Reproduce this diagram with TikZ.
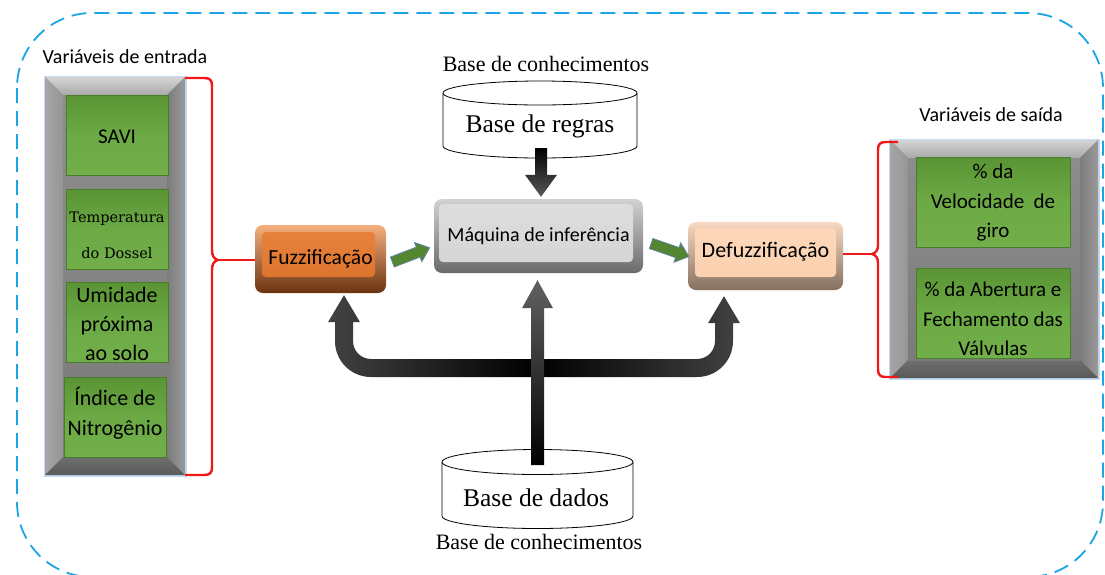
\documentclass[tikz,border=0pt]{standalone}
\usepackage{fontspec}
\setmainfont{Carlito}
\newfontfamily\timesfont{Liberation Serif}
\newfontfamily\dvserif{DejaVu Serif}
\usetikzlibrary{calc,shapes.arrows}

% palette
\definecolor{dashblue}{HTML}{1CA4E6}
\definecolor{glowblue}{HTML}{B4D3F0}
\definecolor{braceRed}{HTML}{F01818}
\definecolor{gTop}{HTML}{5A9434}
\definecolor{gMid}{HTML}{6CAA45}
\definecolor{gBot}{HTML}{72AF4A}
\definecolor{gEdge}{HTML}{4A7D2B}
\definecolor{arrGreen}{HTML}{548530}
\definecolor{arrEdge}{HTML}{5F82B8}
\definecolor{frMid}{HTML}{8C8C8C}
\definecolor{frTopA}{HTML}{D4D4D4}
\definecolor{frTopB}{HTML}{A9A9A9}
\definecolor{frLeftA}{HTML}{A6A6A6}
\definecolor{frLeftB}{HTML}{959595}
\definecolor{frRightA}{HTML}{9A9A9A}
\definecolor{frRightB}{HTML}{7C7C7C}
\definecolor{frBotA}{HTML}{6E6E6E}
\definecolor{frBotB}{HTML}{5A5A5A}
\definecolor{frInA}{HTML}{8D8D8D}
\definecolor{frInB}{HTML}{7B7B7B}
\definecolor{fuzRimTop}{HTML}{F6B07E}
\definecolor{fuzRimBot}{HTML}{6A3410}
\definecolor{fuzTop}{HTML}{E8843F}
\definecolor{fuzBot}{HTML}{DA7028}
\definecolor{maqRimTop}{HTML}{D2D2D2}
\definecolor{maqRimBot}{HTML}{6A6A6A}
\definecolor{maqTop}{HTML}{DEDEDE}
\definecolor{maqBot}{HTML}{D4D4D4}
\definecolor{defRimTop}{HTML}{F8D9C2}
\definecolor{defRimBot}{HTML}{86705F}
\definecolor{defTop}{HTML}{FCD8BA}
\definecolor{defBot}{HTML}{FBD0AE}
\definecolor{barGray}{HTML}{424242}

% bevelled grey frame: x1 y1 x2 y2 bevel
\newcommand\bevelframe[5]{%
  \draw[glowblue, line width=3pt, opacity=0.8] (#1,#2) rectangle (#3,#4);
  \fill[frMid] (#1,#2) rectangle (#3,#4);
  \shade[top color=frTopA, bottom color=frTopB] (#1,#2) -- (#3,#2) -- ({#3-#5},{#2+#5}) -- ({#1+#5},{#2+#5}) -- cycle;
  \shade[left color=frLeftA, right color=frLeftB] (#1,#2) -- ({#1+#5},{#2+#5}) -- ({#1+#5},{#4-#5}) -- (#1,#4) -- cycle;
  \shade[left color=frRightB, right color=frRightA] (#3,#2) -- ({#3-#5},{#2+#5}) -- ({#3-#5},{#4-#5}) -- (#3,#4) -- cycle;
  \shade[top color=frBotA, bottom color=frBotB] (#1,#4) -- ({#1+#5},{#4-#5}) -- ({#3-#5},{#4-#5}) -- (#3,#4) -- cycle;
  \shade[top color=frInA, bottom color=frInB] ({#1+#5},{#2+#5}) rectangle ({#3-#5},{#4-#5});
}
% green variable panel
\newcommand\greenpanel[4]{%
  \shadedraw[top color=gTop, bottom color=gBot, middle color=gMid, draw=gEdge, line width=0.6pt] (#1,#2) rectangle (#3,#4);
}

\tikzset{
  % rim shading, face shading, insets left/top/right/bottom
  bevel/.style n args={6}{#1, rounded corners=8pt, inner sep=0pt,
    path picture={\shade[#2, rounded corners=4pt]
      ($(path picture bounding box.north west)+(#3,#4)$) rectangle
      ($(path picture bounding box.south east)+(-#5,-#6)$);}},
  garrow/.style={single arrow, draw=arrEdge, line width=0.7pt, fill=arrGreen,
    inner xsep=0pt, inner ysep=5pt, minimum height=40pt,
    single arrow head extend=5pt, single arrow tip angle=80},
  lbl/.style={inner sep=0pt, align=center, text=black},
  cyl/.style={draw=black, fill=white, line width=0.8pt},
  bracepath/.style={draw=braceRed, line width=2.4pt, line join=round},
}

\begin{document}
\begin{tikzpicture}[x=1pt,y=-1pt]
\useasboundingbox (0,0) rectangle (1105,574);
\fill[white] (0,0) rectangle (1105,574);

% outer dashed boundary
\draw[dashblue, line width=1.8pt, dash pattern=on 15pt off 8pt, rounded corners=75pt]
  (17,13) rectangle (1103,577);

% input variables
\node[lbl, font=\fontsize{20}{23}\selectfont] (inlbl) at (125,57) {Variáveis de entrada};
\bevelframe{45}{77}{185}{475}{18}
\greenpanel{66}{95}{168}{175}
\greenpanel{66}{189}{168}{269}
\greenpanel{66}{282}{168}{362}
\greenpanel{64}{377}{166}{457}
\node[lbl, font=\fontsize{21}{26}\selectfont] (savi) at (117,137) {SAVI};
\node[lbl, font=\dvserif\fontsize{14.5}{36}\selectfont] (temp) at (117,235) {Temperatura\\do Dossel};
\node[lbl, font=\fontsize{22}{29}\selectfont] (umid) at (117,324) {Umidade\\próxima\\ao solo};
\node[lbl, font=\fontsize{22}{30}\selectfont] (nitro) at (115,413) {Índice de\\Nitrogênio};

% output variables
\node[lbl, font=\fontsize{20}{23}\selectfont] (outlbl) at (991,115) {Variáveis de saída};
\bevelframe{890}{140}{1098}{378}{18}
\greenpanel{916}{157}{1070}{247}
\greenpanel{916}{268}{1070}{358}
\node[lbl, font=\fontsize{21}{29.5}\selectfont] (vel) at (993,203) {\% da\\Velocidade~ de\\giro};
\node[lbl, font=\fontsize{21}{29.5}\selectfont] (valv) at (993,319) {\% da Abertura e\\Fechamento das\\Válvulas};

% processing blocks
\node[bevel={top color=fuzRimTop,bottom color=fuzRimBot}{top color=fuzTop,bottom color=fuzBot}{7}{7}{11}{16},
  minimum width=131pt, minimum height=68pt, font=\fontsize{21.5}{26}\selectfont]
  (fuz) at (320.5,259) {Fuzzificação};
\node[bevel={top color=maqRimTop,bottom color=maqRimBot}{top color=maqTop,bottom color=maqBot}{5}{5}{10}{11},
  minimum width=209pt, minimum height=74pt, font=\fontsize{20}{24}\selectfont]
  (maq) at (538.5,236) {Máquina de inferência};
\node[bevel={top color=defRimTop,bottom color=defRimBot}{top color=defTop,bottom color=defBot}{7}{6}{7}{13},
  minimum width=155pt, minimum height=68pt, font=\fontsize{22}{26}\selectfont]
  (defuz) at (765.5,256) {\raisebox{4pt}[\height][\depth]{Defuzzificação}};

% green flow arrows
\node[garrow, rotate=21] (ga1) at (408,256) {};
\node[garrow, rotate=-19] (ga2) at (667,249) {};

% red braces
\coordinate (lcusp) at (218,260);
\draw[bracepath] (185,78) -- (204,78) .. controls (210,78) and (212,80) .. (212,86)
  -- (212,250) .. controls (212,256) and (214,259) .. (lcusp)
  .. controls (214,261) and (212,264) .. (212,270)
  -- (212,467) .. controls (212,473) and (210,475) .. (204,475) -- (185,475);
\draw[bracepath] (lcusp) -- (lcusp -| fuz.west);
\coordinate (rcusp) at (872,254);
\draw[bracepath] (898,142) -- (886,142) .. controls (880,142) and (878,144) .. (878,150)
  -- (878,245) .. controls (878,250) and (876,253) .. (rcusp)
  .. controls (876,255) and (878,258) .. (878,263)
  -- (878,369) .. controls (878,375) and (880,377) .. (886,377) -- (898,377);
\draw[bracepath] (rcusp) -- (rcusp -| defuz.east);

% rule base cylinder
\filldraw[cyl] (443,93) -- (443,146) arc[start angle=180, end angle=360, x radius=97pt, y radius=12pt] -- (637,93);
\filldraw[cyl] (540,93) ellipse[x radius=97pt, y radius=12pt];
\node[lbl, font=\timesfont\fontsize{25.5}{30}\selectfont] (regras) at (540,126) {Base de regras};
\node[lbl, font=\timesfont\fontsize{22}{26}\selectfont] (kb1) at (546,64) {Base de conhecimentos};

% data base cylinder
\filldraw[cyl] (442,462) -- (442,516) arc[start angle=180, end angle=360, x radius=95.5pt, y radius=12.5pt] -- (633,462);
\filldraw[cyl] (537.5,462) ellipse[x radius=95.5pt, y radius=12.5pt];
\node[lbl, font=\timesfont\fontsize{25.5}{30}\selectfont] (dados) at (536,498) {Base de dados};
\node[lbl, font=\timesfont\fontsize{22}{26}\selectfont] (kb2) at (539,542) {Base de conhecimentos};

% rule base -> inference engine
\coordinate (ttop) at (541,148);
\coordinate (ttip) at ($(ttop |- maq.north)+(0,-2)$);
\shade[top color=black, bottom color=black!65] ($(ttop)+(-6,0)$) -- ($(ttip)+(-6,-22)$) -- ($(ttip)+(-16,-22)$)
  -- (ttip) -- ($(ttip)+(16,-22)$) -- ($(ttip)+(6,-22)$) -- ($(ttop)+(6,0)$) -- cycle;

% data base -> fuzzification / defuzzification
\coordinate (Ltip) at ($(fuz.south)+(23.5,2)$);
\coordinate (Rtip) at ($(defuz.south)+(-41.5,6)$);
\coordinate (barc) at (537,368);
\shade[left color=barGray, right color=barGray, middle color=black]
  (Ltip) -- ($(Ltip)+(16,27)$) -- ($(Ltip)+(9,27)$) -- ($(Ltip |- barc)+(9,-27)$)
  .. controls ($(Ltip |- barc)+(9,-17)$) and ($(Ltip |- barc)+(17,-9)$) .. ($(Ltip |- barc)+(27,-9)$)
  -- ($(Rtip |- barc)+(-27,-9)$)
  .. controls ($(Rtip |- barc)+(-17,-9)$) and ($(Rtip |- barc)+(-9,-17)$) .. ($(Rtip |- barc)+(-9,-27)$)
  -- ($(Rtip)+(-9,27)$) -- ($(Rtip)+(-16,27)$) -- (Rtip) -- ($(Rtip)+(16,27)$) -- ($(Rtip)+(9,27)$)
  -- ($(Rtip |- barc)+(9,-27)$)
  .. controls ($(Rtip |- barc)+(9,-7)$) and ($(Rtip |- barc)+(-7,9)$) .. ($(Rtip |- barc)+(-27,9)$)
  -- ($(Ltip |- barc)+(27,9)$)
  .. controls ($(Ltip |- barc)+(7,9)$) and ($(Ltip |- barc)+(-9,-7)$) .. ($(Ltip |- barc)+(-9,-27)$)
  -- ($(Ltip)+(-9,27)$) -- ($(Ltip)+(-16,27)$) -- cycle;

% data base -> inference engine
\coordinate (cbase) at (537.5,465);
\coordinate (ctip) at ($(maq.south)+(-1,7)$);
\shade[top color=black!62, bottom color=black] ($(cbase)+(-6.5,0)$) -- ($(ctip)+(-6.5,28)$) -- ($(ctip)+(-15.5,28)$)
  -- (ctip) -- ($(ctip)+(15.5,28)$) -- ($(ctip)+(6.5,28)$) -- ($(cbase)+(6.5,0)$) -- cycle;
\end{tikzpicture}
\end{document}
